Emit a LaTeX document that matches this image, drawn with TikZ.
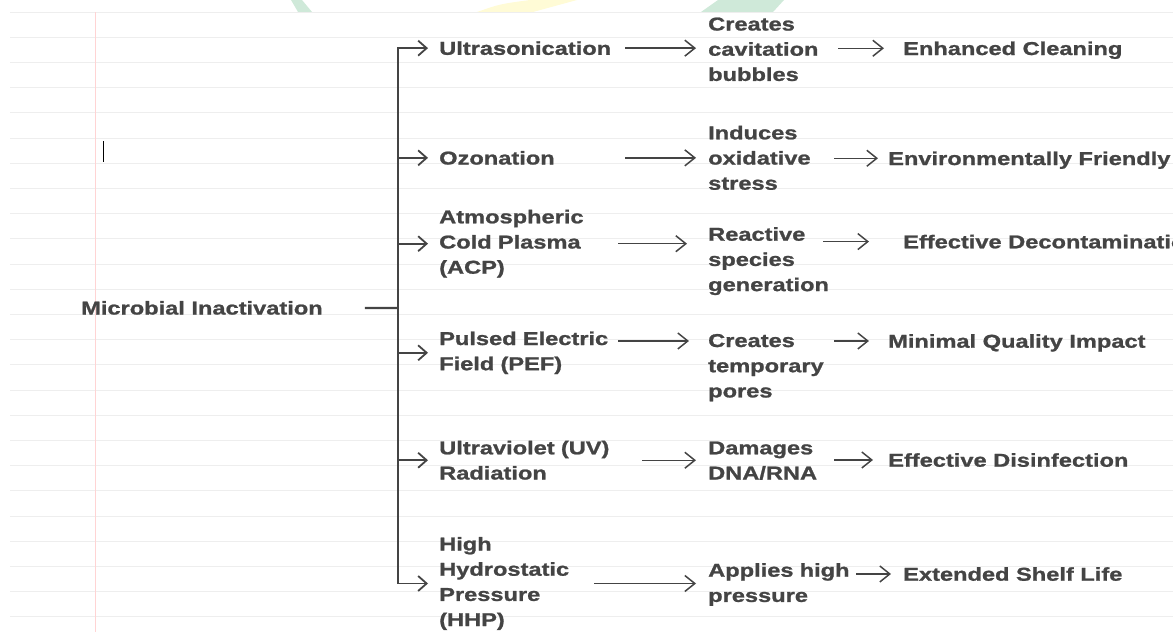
\documentclass[tikz,border=0pt]{standalone}
\usepackage{fontspec}
\usepackage{xcolor}
\usepackage{tikz}
\usetikzlibrary{positioning,arrows.meta}
\newfontfamily\diafont{Liberation Sans Bold}[FakeStretch=1.27,FakeBold=1.2]
\definecolor{inkgray}{RGB}{68,68,68}
\definecolor{rulegray}{RGB}{238,238,238}
\definecolor{marginred}{RGB}{255,212,212}
\definecolor{mintgreen}{RGB}{207,233,217}
\definecolor{paleyellow}{RGB}{255,251,214}

\begin{document}
\begin{tikzpicture}[
x=1pt,y=-1pt,
meth/.style={
  anchor=base west,
  inner sep=0pt,
  align=left,
  text=inkgray,
  font=\diafont\fontsize{18.6}{25.2}\selectfont
},
effc/.style={
  meth,
  text depth=0pt
},
brn/.style={
  draw=inkgray,
  line width=1.8pt,
  -{Straight Barb[length=8.5pt,width=15pt]}
},
arr/.style={
  draw=inkgray,
  line width=1.5pt,
  -{Straight Barb[length=10pt,width=16pt]}
}
]
\useasboundingbox (0,0) rectangle (1173,632);
\clip (0,0) rectangle (1173,632);

% notebook paper
\fill[mintgreen] (291,0) -- (302,0) -- (312,12) -- (298,12) -- cycle;
\fill[mintgreen] (718,0) -- (784,0) -- (773,12) -- (701,12) -- cycle;
\fill[paleyellow] (477,12) .. controls (500,4) .. (530,0) -- (577,0) -- (533,12) -- cycle;
\foreach \k in {0,...,24}
  \draw[rulegray,line width=0.8pt] (10,{12+25.2*\k}) -- (1173,{12+25.2*\k});
\draw[marginred,line width=0.8pt] (95,12) -- (95,632);
\draw[black,line width=0.8pt] (103,141) -- (103,162);

\node[meth] at (81,314.5)
  (root) {Microbial Inactivation};
\coordinate (jn) at (398,308);

% methods
\node[meth,text width=186pt] at (439,54.8)
  (m1) {Ultrasonication};
\node[meth,text width=186pt] at (439,164.5)
  (m2) {Ozonation};
\node[meth,text width=179pt] at (439,223.3)
  (m3) {Atmospheric\\Cold Plasma\\(ACP)};
\node[meth,text width=179pt] at (439,345)
  (m4) {Pulsed Electric\\Field (PEF)};
\node[meth,text width=203pt] at (439,454.3)
  (m5) {Ultraviolet (UV)\\Radiation};
\node[meth,text width=155pt] at (439,550.5)
  (m6) {High\\Hydrostatic\\Pressure\\(HHP)};

% mechanisms
\node[meth,text width=130pt] at (708,30.5)
  (k1) {Creates\\cavitation\\bubbles};
\node[meth,text width=126pt] at (708,139.3)
  (k2) {Induces\\oxidative\\stress};
\node[meth,text width=124pt] at (708,240.7)
  (k3) {Reactive\\species\\generation};
\node[meth,text width=126pt] at (708,347)
  (k4) {Creates\\temporary\\pores};
\node[meth,text width=126pt] at (708,454.3)
  (k5) {Damages\\DNA/RNA};
\node[meth,text width=148pt] at (708,576.7)
  (k6) {Applies high\\pressure};

% effects
\node[effc] at (903,55)
  (e1) {Enhanced Cleaning};
\node[effc] at (888,165)
  (e2) {Environmentally Friendly};
\node[effc] at (903,248.3)
  (e3) {Effective Decontamination};
\node[effc] at (888,347.7)
  (e4) {Minimal Quality Impact};
\node[effc] at (888,466.7)
  (e5) {Effective Disinfection};
\node[effc] at (903,580.7)
  (e6) {Extended Shelf Life};

\draw[draw=inkgray,line width=2.2pt,shorten <=42pt] (root.east) -- (jn);
\draw[brn,shorten >=11pt] (jn) |- (m1.west);
\draw[brn,shorten >=11pt] (jn) |- (m2.west);
\draw[brn,shorten >=11pt] (jn) |- (m3.west);
\draw[brn,shorten >=11pt] (jn) |- (m4.west);
\draw[brn,shorten >=11pt] (jn) |- (m5.west);
\draw[brn,shorten >=11pt] (jn) |- (m6.west);

\draw[arr,shorten >=12pt] (m1.east) -- (m1.east -| k1.west);
\draw[arr,shorten >=12pt] (m2.east) -- (m2.east -| k2.west);
\draw[arr,shorten >=21pt] (m3.east) -- (m3.east -| k3.west);
\draw[arr,shorten >=19pt] (m4.east |- e4.west) -- (k4.west |- e4.west);
\draw[arr,shorten >=12pt] (m5.east) -- (m5.east -| k5.west);
\draw[arr,shorten >=12pt] (m6.east) -- (m6.east -| k6.west);

\draw[arr,shorten >=19pt] (k1.east |- e1.west) -- (e1.west);
\draw[arr,shorten >=10pt] (k2.east |- e2.west) -- (e2.west);
\draw[arr,shorten >=34pt,shorten <=-9pt] (k3.east |- e3.west) -- (e3.west);
\draw[arr,shorten >=19pt] (k4.east |- e4.west) -- (e4.west);
\draw[arr,shorten >=15pt] (k5.east |- e5.west) -- (e5.west);
\draw[arr,shorten >=12pt] (k6.east |- e6.west) -- (e6.west);
\end{tikzpicture}
\end{document}
